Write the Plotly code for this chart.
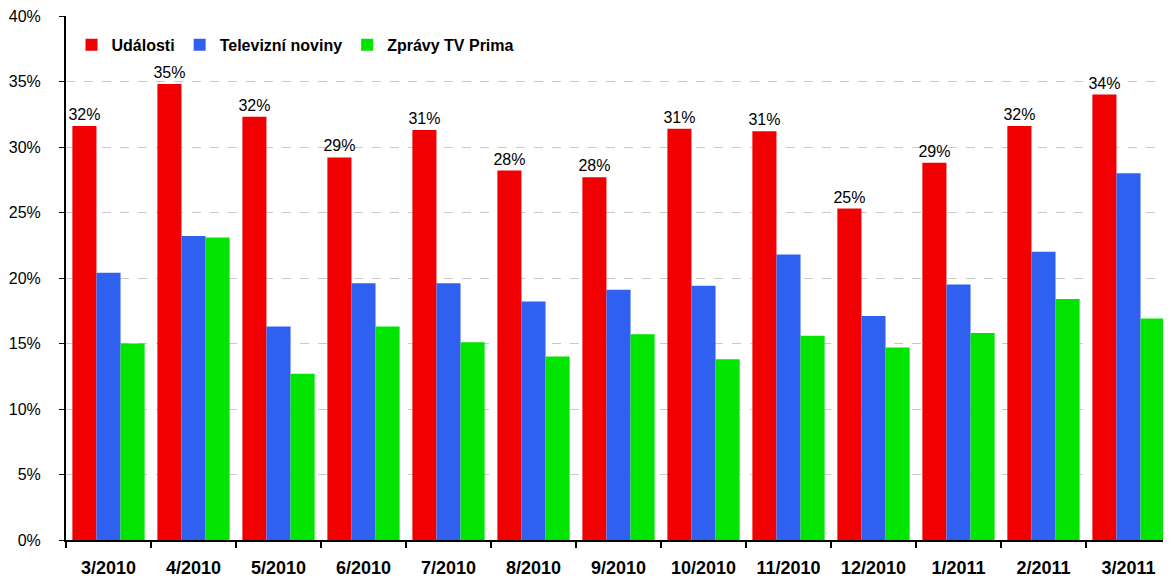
import plotly.graph_objects as go

categories = ["3/2010", "4/2010", "5/2010", "6/2010", "7/2010", "8/2010", "9/2010",
              "10/2010", "11/2010", "12/2010", "1/2011", "2/2011", "3/2011"]
udalosti = [31.6, 34.8, 32.3, 29.2, 31.3, 28.2, 27.7, 31.4, 31.2, 25.3, 28.8, 31.6, 34.0]
televizni = [20.4, 23.2, 16.3, 19.6, 19.6, 18.2, 19.1, 19.4, 21.8, 17.1, 19.5, 22.0, 28.0]
prima = [15.0, 23.1, 12.7, 16.3, 15.1, 14.0, 15.7, 13.8, 15.6, 14.7, 15.8, 18.4, 16.9]
y_ticks = [0, 5, 10, 15, 20, 25, 30, 35, 40]
y_tick_text = ["0%", "5%", "10%", "15%", "20%", "25%", "30%", "35%", "40%"]

FONT = "Arial, Liberation Sans, sans-serif"

fig = go.Figure()
fig.add_trace(go.Bar(
    x=categories, y=udalosti, name="Události",
    marker=dict(color="#F00000", line=dict(width=0)),
    texttemplate="%{y:.0f}%", textposition="outside", constraintext="none",
    textfont=dict(family=FONT, size=16, color="black"),
    cliponaxis=False,
))
fig.add_trace(go.Bar(
    x=categories, y=televizni, name="Televizní noviny",
    marker=dict(color="#3060F0", line=dict(width=0)),
))
fig.add_trace(go.Bar(
    x=categories, y=prima, name="Zprávy TV Prima",
    marker=dict(color="#00E400", line=dict(width=0)),
))

fig.update_layout(
    width=1163, height=571,
    margin=dict(l=58, r=0, t=8, b=39),
    paper_bgcolor="white", plot_bgcolor="white",
    barmode="group", bargap=0.15, bargroupgap=0,
    font=dict(family=FONT, size=16, color="black"),
    showlegend=True,
    legend=dict(orientation="h", x=0.005, y=0.945, xanchor="left", yanchor="middle",
                font=dict(family=FONT, size=16, color="black", weight="bold"),
                bgcolor="rgba(0,0,0,0)"),
)
fig.update_xaxes(
    showline=True, linecolor="black", linewidth=2,
    ticks="outside", tickson="boundaries", ticklen=6, tickcolor="black", tickwidth=1.5,
    tickfont=dict(family=FONT, size=18, color="black", weight="bold"),
    ticklabelstandoff=10, ticklabeloverflow="allow",
    showgrid=False, zeroline=False, automargin=False,
)
fig.update_yaxes(
    range=[0, 40], tickvals=y_ticks, ticktext=y_tick_text,
    showline=True, linecolor="black", linewidth=2,
    ticks="outside", ticklen=5, tickcolor="black",
    tickfont=dict(family=FONT, size=16, color="black"),
    ticklabelstandoff=15, ticklabeloverflow="allow",
    showgrid=True, gridcolor="#C8C8C8", griddash="dash", gridwidth=1,
    zeroline=False, automargin=False,
)

fig.write_html("out.html")
